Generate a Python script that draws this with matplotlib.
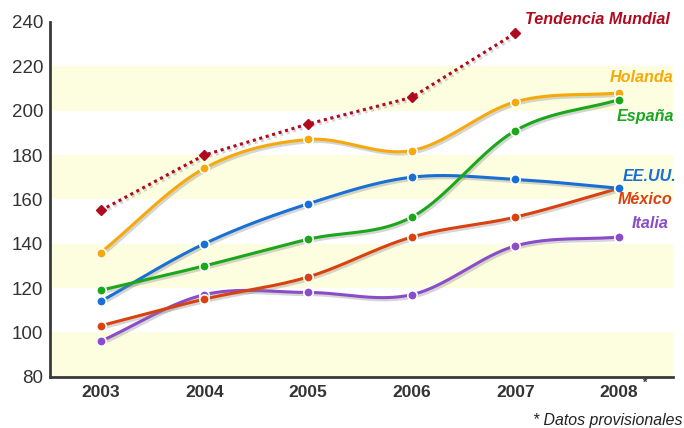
import numpy as np
import matplotlib
matplotlib.use("Agg")
import matplotlib.pyplot as plt
import matplotlib.patheffects as pe

plt.rcParams['font.family'] = ['Liberation Sans', 'DejaVu Sans']

# Data
years = [2003, 2004, 2005, 2006, 2007, 2008]
year_labels = ["2003", "2004", "2005", "2006", "2007", "2008"]
tendencia_mundial = [155, 180, 194, 206, 235]
holanda = [136, 174, 187, 182, 204, 208]
espana = [119, 130, 142, 152, 191, 205]
eeuu = [114, 140, 158, 170, 169, 165]
mexico = [103, 115, 125, 143, 152, 165]
italia = [96, 117, 118, 117, 139, 143]
y_ticks = [80, 100, 120, 140, 160, 180, 200, 220, 240]

# name, values, colour, style, marker, label position (px), drawing order
series = [
    ("Tendencia Mundial", tendencia_mundial, "#b00a1e", "dotted", "D", (525, 20), 6),
    ("Holanda", holanda, "#f5a90a", "solid", "o", (610, 77), 4),
    ("España", espana, "#1aa81a", "solid", "o", (617, 117), 5),
    ("EE.UU.", eeuu, "#1a6fd4", "solid", "o", (623, 176), 3),
    ("México", mexico, "#d9420f", "solid", "o", (618, 199), 2),
    ("Italia", italia, "#8a4cc8", "solid", "o", (632, 223), 1),
]


def catmull_rom(xs, ys, n=40):
    """Smooth curve through the points (uniform Catmull-Rom)."""
    xs = np.asarray(xs, float)
    ys = np.asarray(ys, float)
    px = np.concatenate([[2 * xs[0] - xs[1]], xs, [2 * xs[-1] - xs[-2]]])
    py = np.concatenate([[2 * ys[0] - ys[1]], ys, [2 * ys[-1] - ys[-2]]])
    out_x, out_y = [], []
    t = np.linspace(0, 1, n)
    for i in range(1, len(px) - 2):
        for p, out in ((px, out_x), (py, out_y)):
            p0, p1, p2, p3 = p[i - 1], p[i], p[i + 1], p[i + 2]
            seg = 0.5 * ((2 * p1) + (-p0 + p2) * t
                         + (2 * p0 - 5 * p1 + 4 * p2 - p3) * t ** 2
                         + (-p0 + 3 * p1 - 3 * p2 + p3) * t ** 3)
            out.extend(seg if i == 1 else seg[1:])
    return np.array(out_x), np.array(out_y)


W, H = 684, 428
fig = plt.figure(figsize=(W / 100, H / 100), dpi=100)
left_px, right_px, top_px, bottom_px = 50, 673, 22, 376.7
ax = fig.add_axes([left_px / W, (H - bottom_px) / H,
                   (right_px - left_px) / W, (bottom_px - top_px) / H])

ax.set_xlim(2002.51, 2008.52)
ax.set_ylim(80, 240)

# Alternating pale bands
for lo in (80, 120, 160, 200):
    ax.axhspan(lo, lo + 20, color="#fdfde0", zorder=0, lw=0)

shadow = [pe.SimpleLineShadow(offset=(1.2, -1.6), shadow_color="#888888", alpha=0.35),
          pe.Normal()]

for name, vals, color, ls, marker, (lx, ly), order in series:
    xs = years[:len(vals)]
    z = 2 + order * 0.1
    if ls == "dotted":
        ax.plot(xs, vals, color=color, lw=2.2, ls=(0, (1, 1.2)),
                zorder=z, path_effects=shadow, solid_capstyle="butt")
        ax.plot(xs, vals, ls="none", marker=marker, ms=5, mfc=color,
                mec=color, zorder=z + 1)
    else:
        cx, cy = catmull_rom(xs, vals)
        ax.plot(cx, cy, color=color, lw=2.2, zorder=z, path_effects=shadow)
        ax.plot(xs, vals, ls="none", marker=marker, ms=6.8, mfc=color,
                mec="white", mew=1.2, zorder=z + 1)
    fig.text(lx / W, 1 - ly / H, name, color=color, fontsize=11.6,
             fontweight="bold", fontstyle="italic", ha="left", va="center")

# Axes styling
for s in ("top", "right"):
    ax.spines[s].set_visible(False)
for s in ("left", "bottom"):
    ax.spines[s].set_color("#3a3a3a")
    ax.spines[s].set_linewidth(2)
ax.spines["bottom"].set_path_effects(
    [pe.SimplePatchShadow(offset=(0, -1.5), shadow_rgbFace="#999999", alpha=0.5), pe.Normal()])

ax.set_yticks(y_ticks)
ax.set_yticklabels([str(v) for v in y_ticks], fontsize=13.5, color="#333333")
ax.set_xticks(years)
ax.set_xticklabels(year_labels, fontsize=12.5, fontweight="bold", color="#333333")
ax.tick_params(axis="both", length=0)
ax.tick_params(axis="y", pad=5)
ax.tick_params(axis="x", pad=6)

fig.text(645 / W, 1 - 383 / H, "*", fontsize=8, fontweight="bold", color="#333333",
         ha="center", va="center")
fig.text(533 / W, 1 - 420 / H, "* Datos provisionales", fontsize=11.4,
         fontstyle="italic", color="#222222", ha="left", va="center")

fig.savefig("out.png", dpi=100)
